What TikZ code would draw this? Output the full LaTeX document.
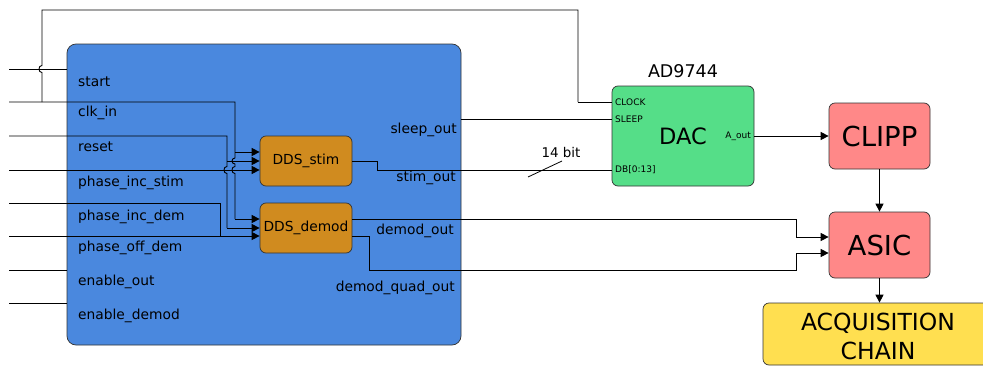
\documentclass[tikz,border=0pt]{standalone}
\usepackage{fontspec}
\setmainfont{DejaVu Sans}
\usetikzlibrary{arrows.meta,calc}

\definecolor{fpgablue}{HTML}{4A88DE}
\definecolor{ddsorange}{HTML}{D08B1F}
\definecolor{dacgreen}{HTML}{55DE88}
\definecolor{analogred}{HTML}{FF8888}
\definecolor{acqyellow}{HTML}{FFDF50}

\tikzset{
  block/.style={draw=black!80, line width=0.7pt, rounded corners=6pt, inner sep=0pt, align=center},
  wire/.style={draw=black, line width=0.9pt},
  arrowwire/.style={wire, -{Triangle[length=8pt,width=8pt]}},
  portlbl/.style={inner sep=0pt, font=\fontsize{13.8}{16}\selectfont},
  pinlbl/.style={inner sep=0pt, font=\fontsize{9}{11}\selectfont},
}

\begin{document}
\begin{tikzpicture}[x=1pt,y=-1pt]
\useasboundingbox (0,0) rectangle (983,367);

% FPGA block with its port names
\node[block, fill=fpgablue, rounded corners=9pt, minimum width=394pt, minimum height=301pt] (fpga) at (264,194.5) {};
\node[portlbl, anchor=west] (lstart) at (78,82) {start};
\node[portlbl, anchor=west] (lclk) at (78,113) {clk\_in};
\node[portlbl, anchor=west] (lreset) at (78,147) {reset};
\node[portlbl, anchor=west] (lpis) at (78,183) {phase\_inc\_stim};
\node[portlbl, anchor=west] (lpid) at (78,217) {phase\_inc\_dem};
\node[portlbl, anchor=west] (lpod) at (78,248) {phase\_off\_dem};
\node[portlbl, anchor=west] (leo) at (78,282) {enable\_out};
\node[portlbl, anchor=west] (led) at (78,316) {enable\_demod};
\node[portlbl, anchor=east] (lsleep) at (457,130) {sleep\_out};
\node[portlbl, anchor=east] (lstim) at (456,178) {stim\_out};
\node[portlbl, anchor=east] (ldemod) at (454,231) {demod\_out};
\node[portlbl, anchor=east] (lquad) at (455,288) {demod\_quad\_out};

% DDS cores
\node[block, fill=ddsorange, minimum width=92pt, minimum height=50pt, font=\fontsize{13.8}{16}\selectfont] (ddsstim) at (306,161) {DDS\_stim};
\node[block, fill=ddsorange, minimum width=92pt, minimum height=50pt, font=\fontsize{13.8}{16}\selectfont] (ddsdemod) at (306,228) {DDS\_demod};

% DAC with pin names
\node[block, fill=dacgreen, minimum width=142pt, minimum height=100pt, font=\fontsize{22.5}{26}\selectfont] (dac) at (683,136) {DAC};
\node[inner sep=0pt, font=\fontsize{17.5}{20}\selectfont] (dactitle) at (683,71) {AD9744};
\node[pinlbl, anchor=west] (pclock) at (615,102) {CLOCK};
\node[pinlbl, anchor=west] (psleep) at (615,119) {SLEEP};
\node[pinlbl, anchor=west] (pdb) at (615,170) {DB[0:13]};
\node[pinlbl, anchor=east] (paout) at (751,136) {A\_out};

% analog chain
\node[block, fill=analogred, minimum width=101pt, minimum height=66pt, font=\fontsize{27.5}{30}\selectfont] (clipp) at (879.5,136) {CLIPP};
\node[block, fill=analogred, minimum width=101pt, minimum height=66pt, font=\fontsize{27.5}{30}\selectfont] (asic) at (879.5,245) {ASIC};
\node[block, fill=acqyellow, minimum width=230pt, minimum height=62pt, font=\fontsize{23.5}{28.5}\selectfont] (acq) at (878,334) {};
\node[inner sep=0pt, align=center, font=\fontsize{23.5}{28.5}\selectfont] (acqtext) at (878,336.5) {ACQUISITION\\CHAIN};

% input wire ends and pin points
\coordinate (inStart) at (9,69);
\coordinate (inClk) at (9,102);
\coordinate (inReset) at (9,136);
\coordinate (inPis) at (9,170);
\coordinate (inPid) at (9,203);
\coordinate (inPod) at (9,236);
\coordinate (inEo) at (9,270);
\coordinate (inEd) at (9,303);
\coordinate (stimA) at (ddsstim.west |- 0,152);
\coordinate (stimB) at (ddsstim.west |- 0,161);
\coordinate (stimC) at (ddsstim.west |- 0,170);
\coordinate (demA) at (ddsdemod.west |- 0,219);
\coordinate (demB) at (ddsdemod.west |- 0,228);
\coordinate (demC) at (ddsdemod.west |- 0,236);
\coordinate (dacClk) at (dac.west |- 0,102);
\coordinate (dacSleep) at (dac.west |- 0,119);
\coordinate (dacDb) at (dac.west |- 0,170);
\coordinate (asicA) at (asic.west |- 0,237);
\coordinate (asicB) at (asic.west |- 0,253);

% plain inputs ending at the block edge
\draw[wire] (inStart) -- (fpga.west |- inStart);
\draw[wire] (inEo) -- (fpga.west |- inEo);
\draw[wire] (inEd) -- (fpga.west |- inEd);

% clock to both DDS cores and, over the top, to the DAC
\draw[wire] (inClk) -- (235,102) -- (235,158)
  .. controls (231,158) and (231,164) .. (235,164) -- (235,166.5)
  .. controls (231,166.5) and (231,173.5) .. (235,173.5) -- (235,219);
\draw[arrowwire] (235,152) -- (stimA);
\draw[arrowwire] (235,219) -- (demA);
\draw[wire] (42,102) -- (42,72.5)
  .. controls (38,72.5) and (38,65.5) .. (42,65.5) -- (42,10) -- (578,10) -- (578,102);
\draw[wire] (578,102) -- (dacClk);

% reset to both DDS cores
\draw[wire] (inReset) -- (227,136) -- (227,166.5)
  .. controls (223,166.5) and (223,173.5) .. (227,173.5) -- (227,228);
\draw[arrowwire] (227,161) -- (stimB);
\draw[arrowwire] (227,228) -- (demB);

% phase words
\draw[arrowwire] (inPis) -- (stimC);
\draw[wire] (inPid) -- (220,203) -- (220,236);
\draw[arrowwire] (inPod) -- (demC);

% outputs toward the DAC
\draw[wire] (fpga.east |- dacSleep) -- (dacSleep);
\draw[wire] (ddsstim.east) -- (377,161) -- (377,170) -- (dacDb);
\draw[line width=0.8pt] (528,177) -- (562,161);
\node[inner sep=0pt, font=\fontsize{13.4}{16}\selectfont] (buswidth) at (561,153) {14 bit};

% demodulation references to the ASIC
\draw[arrowwire] (ddsdemod.east |- demA) -- (796,219) -- (796,237) -- (asicA);
\draw[arrowwire] (ddsdemod.east |- demC) -- (369,236) -- (369,270) -- (796,270) -- (796,253) -- (asicB);

% analog signal path
\draw[arrowwire] (dac.east) -- (clipp.west);
\draw[arrowwire] (clipp.south) -- (asic.north);
\draw[arrowwire] (asic.south) -- (asic.south |- acq.north);
\end{tikzpicture}
\end{document}
